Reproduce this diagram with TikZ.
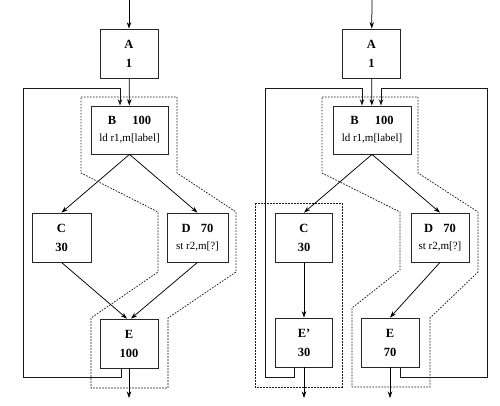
\documentclass[tikz,border=0pt]{standalone}
\usepackage{fontspec}
\setmainfont{Liberation Serif}
\usepackage{tikz}
\usetikzlibrary{arrows.meta}
\tikzstyle{block} = [rectangle, minimum width=58pt, minimum height=49pt, align=center, draw=black!85, line width=0.8pt, font=\fontsize{12.5}{19}\selectfont\bfseries]
\tikzstyle{wideblock} = [block, minimum width=77pt, minimum height=48pt]
\tikzstyle{arrow} = [line width=0.75pt,->,>={Stealth[length=6.5pt,width=4.5pt]}]
\tikzstyle{loop} = [arrow, draw=black!90]
\tikzstyle{region} = [line width=0.75pt, dash pattern=on 1.6pt off 1.4pt, draw=black!90]
\newcommand{\code}[1]{{\normalfont\fontsize{11}{12}\selectfont #1}}

\begin{document}
\begin{tikzpicture}[x=1pt,y=-1pt]
  \useasboundingbox (0,0) rectangle (500,406);
  % left: original flow
  \node (A1) [block] at (129,53.5) {A\\1};
  \node (B1) [wideblock, below of=A1, node distance=76.5pt, xshift=0.5pt]{B\hspace{1.3em}100\\[-2pt]\code{ld r1,m[label]}};
  \node (C1) [block, below of=B1, node distance=107.5pt, xshift=-68pt, minimum width=59pt]{C\\30};
  \node (D1) [block, below of=B1, node distance=107.5pt, xshift=68pt, minimum width=61pt]{D\hspace{0.8em}70\\[-2pt]\code{st r2,m[?]}};
  \node (E1) [block, below of=B1, node distance=213.5pt, xshift=-0.5pt]{E\\100};
  \coordinate (in1) at (129,0);
  \coordinate (out1) at (129,398);
  \coordinate (L1a) at (23,88);
  \coordinate (L1b) at (23,377);
  % right: after duplicating E
  \node (A2) [block] at (371.5,53.5) {A\\1};
  \node (B2) [wideblock, below of=A2, node distance=76.5pt, xshift=0.5pt, minimum width=78pt]{B\hspace{1.3em}100\\[-2pt]\code{ld r1,m[label]}};
  \node (C2) [block, below of=B2, node distance=107.5pt, xshift=-68pt, minimum width=57pt]{C\\30};
  \node (D2) [block, below of=B2, node distance=107.5pt, xshift=68pt]{D\hspace{0.8em}70\\[-2pt]\code{st r2,m[?]}};
  \node (Ep2) [block, below of=C2, node distance=105pt, minimum width=57pt]{E'\\30};
  \node (E2) [block, below of=D2, node distance=105pt, xshift=-50pt]{E\\70};
  \coordinate (in2) at (372,0);
  \coordinate (outp2) at (304,398);
  \coordinate (out2) at (390,398);
  \coordinate (L2a) at (265,88);
  \coordinate (L2b) at (265,377);
  \coordinate (L3a) at (487,88);
  \coordinate (L3b) at (487,377);
  % dotted regions
  \draw[region] (81,97) -- (177,97) -- (177,173) -- (236,212) -- (236,272) -- (168,318) -- (168,388) -- (91,388) -- (91,318) -- (158,272) -- (158,212) -- (81,173) -- cycle;
  \draw[region] (322,97) -- (418,97) -- (418,173) -- (478,212) -- (478,272) -- (430,318) -- (430,387) -- (352,387) -- (352,308) -- (400,270) -- (400,212) -- (322,173) -- cycle;
  \draw[region] (255,203) rectangle (342,387);
  % edges
  \draw[arrow](in1) -- (A1);
  \draw[arrow](A1) -- (B1);
  \draw[arrow](B1.south) -- (C1.north);
  \draw[arrow](B1.south) -- (D1.north);
  \draw[arrow](C1.south) -- ([xshift=-2pt]E1.north);
  \draw[arrow](D1.south) -- ([xshift=2pt]E1.north);
  \draw[arrow](E1) -- (out1);
  \draw[loop]([xshift=-8pt]E1.south) |- (L1b) -- (L1a) -| ([xshift=-9.5pt]B1.north);
  \draw[arrow](in2) -- (A2);
  \draw[arrow](A2) -- (B2);
  \draw[arrow](B2.south) -- (C2.north);
  \draw[arrow](B2.south) -- (D2.north);
  \draw[arrow](C2) -- (Ep2);
  \draw[arrow](D2.south) -- (E2.north);
  \draw[arrow](Ep2) -- (outp2);
  \draw[arrow](E2) -- (out2);
  \draw[loop]([xshift=-10pt]Ep2.south) |- (L2b) -- (L2a) -| ([xshift=-10pt]B2.north);
  \draw[loop]([xshift=10pt]E2.south) |- (L3b) -- (L3a) -| ([xshift=9pt]B2.north);
\end{tikzpicture}
\end{document}
